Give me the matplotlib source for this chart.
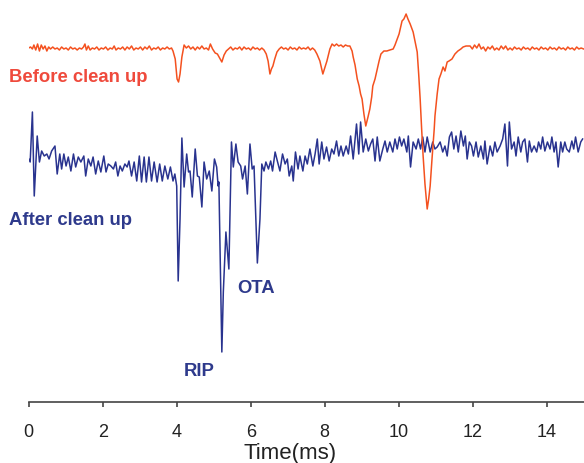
import matplotlib
matplotlib.use("Agg")
import matplotlib.pyplot as plt
from matplotlib import font_manager

# ---------------- data (time in ms, amplitude in arbitrary units, up = positive) -------------
before_t = [
    0.00, 0.05, 0.10, 0.14, 0.19, 0.24, 0.29, 0.34, 0.39, 0.44,
    0.49, 0.54, 0.59, 0.65, 0.71, 0.77, 0.83, 0.89, 0.95, 1.01,
    1.07, 1.13, 1.19, 1.25, 1.31, 1.37, 1.43, 1.48, 1.52, 1.56,
    1.61, 1.66, 1.72, 1.78, 1.84, 1.90, 1.96, 2.02, 2.08, 2.14,
    2.20, 2.26, 2.31, 2.36, 2.42, 2.48, 2.54, 2.60, 2.66, 2.72,
    2.78, 2.84, 2.90, 2.96, 3.02, 3.08, 3.14, 3.20, 3.26, 3.32,
    3.38, 3.44, 3.50, 3.56, 3.62, 3.68, 3.74, 3.80, 3.86, 3.90,
    3.96, 4.01, 4.05, 4.09, 4.14, 4.20, 4.26, 4.32, 4.38, 4.44,
    4.50, 4.56, 4.62, 4.68, 4.74, 4.80, 4.86, 4.91, 4.97, 5.04,
    5.10, 5.16, 5.22, 5.28, 5.34, 5.40, 5.46, 5.52, 5.58, 5.64,
    5.70, 5.76, 5.82, 5.88, 5.94, 6.00, 6.06, 6.12, 6.18, 6.24,
    6.30, 6.36, 6.42, 6.47, 6.52, 6.56, 6.60, 6.65, 6.71, 6.77,
    6.83, 6.89, 6.95, 7.01, 7.07, 7.13, 7.19, 7.25, 7.31, 7.37,
    7.43, 7.49, 7.55, 7.61, 7.67, 7.73, 7.79, 7.87, 7.95, 8.01,
    8.06, 8.14, 8.20, 8.26, 8.32, 8.38, 8.44, 8.50, 8.56, 8.62,
    8.68, 8.74, 8.77, 8.82, 8.88, 8.93, 8.97, 9.01, 9.06, 9.11,
    9.17, 9.22, 9.27, 9.30, 9.36, 9.41, 9.47, 9.52, 9.60, 9.68,
    9.76, 9.85, 9.90, 9.96, 10.01, 10.06, 10.09, 10.14, 10.20, 10.22,
    10.25, 10.31, 10.36, 10.39, 10.44, 10.50, 10.54, 10.58, 10.62, 10.66,
    10.71, 10.77, 10.81, 10.85, 10.90, 10.96, 10.98, 11.04, 11.09, 11.14,
    11.20, 11.25, 11.31, 11.36, 11.44, 11.52, 11.60, 11.68, 11.74, 11.82,
    11.93, 11.99, 12.05, 12.11, 12.17, 12.23, 12.29, 12.35, 12.41, 12.47,
    12.53, 12.59, 12.65, 12.71, 12.77, 12.83, 12.89, 12.95, 13.01, 13.07,
    13.13, 13.19, 13.25, 13.31, 13.37, 13.43, 13.49, 13.55, 13.61, 13.67,
    13.73, 13.79, 13.85, 13.91, 13.97, 14.03, 14.09, 14.15, 14.21, 14.27,
    14.33, 14.39, 14.45, 14.51, 14.57, 14.63, 14.69, 14.75, 14.81, 14.87,
    14.93, 15.00,
]
before_v = [
    0, 1, -1, 3, -2, 4, -3, 3, -1, 2,
    -3, 1, -1, 1, -1, 0, -2, 1, -1, 0,
    -2, 1, -1, 0, -2, 0, -1, 1, 4, -2,
    2, -2, 0, -1, 1, -2, 0, -1, 1, -2,
    0, -1, 2, -2, 0, -1, 1, -2, 1, -1,
    2, -2, 0, -1, 1, -2, 1, -1, 2, -2,
    0, -1, 1, -2, 0, -1, 1, -1, 0, -3,
    -11, -31, -34, -26, -9, 3, 0, 2, -1, 1,
    -2, 1, -1, 2, -1, 0, -2, 4, -1, -5,
    -6, -10, -14, -7, -3, -1, 1, -2, 0, -1,
    1, -2, 1, -1, 0, -2, 1, -1, 0, -2,
    0, -2, -6, -13, -26, -21, -18, -11, -4, -1,
    1, -1, 0, -2, 1, -1, 0, -2, 1, -1,
    0, -1, 1, -2, 0, -2, -6, -13, -26, -19,
    -13, -1, 4, 2, 4, 2, 3, 1, 3, 2,
    2, -3, -9, -17, -31, -38, -46, -51, -66, -78,
    -69, -61, -49, -38, -31, -23, -13, -6, -3, -3,
    -2, -1, 3, 9, 14, 22, 27, 29, 34, 32,
    29, 24, 19, 16, 7, -4, -26, -51, -81, -108,
    -136, -161, -151, -138, -111, -81, -68, -46, -31, -26,
    -19, -23, -14, -13, -11, -6, -3, -1, 1, 2,
    2, -1, 3, 0, 4, -1, 1, -3, 1, -1,
    2, -2, 0, -2, 2, -1, 2, -2, 0, -2,
    1, -1, 0, -2, 1, -1, 0, -2, 1, -1,
    0, -2, 1, -1, 0, -2, 1, -1, 0, -2,
    1, -1, 0, -2, 1, -1, 0, -2, 1, -1,
    0, -1,
]

after_t = [
    0.00, 0.04, 0.10, 0.15, 0.23, 0.29, 0.35, 0.42, 0.49, 0.55,
    0.62, 0.71, 0.77, 0.84, 0.89, 0.95, 1.01, 1.07, 1.14, 1.21,
    1.27, 1.34, 1.41, 1.49, 1.54, 1.61, 1.68, 1.74, 1.81, 1.88,
    1.95, 2.03, 2.09, 2.15, 2.22, 2.29, 2.35, 2.41, 2.47, 2.53,
    2.60, 2.66, 2.71, 2.78, 2.85, 2.92, 2.99, 3.05, 3.12, 3.18,
    3.25, 3.32, 3.39, 3.47, 3.54, 3.61, 3.68, 3.76, 3.83, 3.90,
    3.95, 4.00, 4.04, 4.09, 4.14, 4.20, 4.27, 4.32, 4.36, 4.42,
    4.50, 4.56, 4.61, 4.68, 4.74, 4.81, 4.88, 4.95, 5.02, 5.08,
    5.12, 5.14, 5.22, 5.26, 5.33, 5.41, 5.48, 5.53, 5.60, 5.66,
    5.73, 5.78, 5.85, 5.91, 5.98, 6.04, 6.09, 6.18, 6.25, 6.30,
    6.36, 6.41, 6.48, 6.54, 6.59, 6.66, 6.72, 6.79, 6.86, 6.93,
    6.99, 7.04, 7.11, 7.15, 7.21, 7.28, 7.33, 7.41, 7.47, 7.53,
    7.60, 7.68, 7.74, 7.80, 7.85, 7.92, 7.98, 8.05, 8.12, 8.19,
    8.25, 8.32, 8.38, 8.44, 8.50, 8.58, 8.64, 8.70, 8.77, 8.86,
    8.92, 8.97, 9.04, 9.11, 9.18, 9.24, 9.30, 9.36, 9.42, 9.49,
    9.57, 9.63, 9.69, 9.76, 9.84, 9.90, 9.96, 10.02, 10.08, 10.14,
    10.22, 10.26, 10.32, 10.39, 10.47, 10.53, 10.59, 10.65, 10.71, 10.77,
    10.85, 10.92, 10.98, 11.04, 11.12, 11.19, 11.25, 11.31, 11.37, 11.43,
    11.49, 11.55, 11.61, 11.68, 11.75, 11.80, 11.85, 11.91, 11.97, 12.02,
    12.09, 12.15, 12.22, 12.29, 12.33, 12.39, 12.47, 12.54, 12.60, 12.66,
    12.74, 12.81, 12.87, 12.94, 12.99, 13.05, 13.12, 13.17, 13.23, 13.30,
    13.35, 13.41, 13.48, 13.53, 13.59, 13.66, 13.73, 13.78, 13.84, 13.89,
    13.95, 14.02, 14.09, 14.14, 14.20, 14.25, 14.31, 14.38, 14.43, 14.49,
    14.54, 14.61, 14.68, 14.73, 14.78, 14.85, 14.92, 14.97,
]
after_v = [
    0, -3, 47, -37, 23, -3, 8, 3, 5, 0,
    8, 13, -15, 5, -10, 5, -7, 2, -12, 5,
    -8, 2, -3, 3, -17, 0, -7, 2, -15, -2,
    -13, 3, -13, -5, -7, -10, -3, -17, -7, -12,
    -5, -8, -2, -17, -3, -22, 3, -23, 2, -23,
    2, -22, -3, -23, -5, -22, -7, -20, -8, -22,
    -15, -27, -122, -60, 21, -28, 5, -13, -12, -38,
    10, -17, -18, -48, -3, -20, -12, -32, 0, -8,
    -27, -23, -193, -133, -73, -110, 17, -8, 15, -3,
    -7, -20, -7, -35, 15, -10, -7, -104, -60, -5,
    -12, -3, -10, -2, -12, 7, -2, -12, 5, -5,
    0, -17, -7, -22, 7, -10, 3, -12, 3, -5,
    10, -7, 5, 20, -5, 17, 0, 12, -2, 10,
    5, 18, 3, 13, 3, 13, 5, 23, 0, 35,
    5, 37, 7, 20, 8, 15, 20, -2, 22, -2,
    10, 18, 7, 17, 7, 20, 10, 22, 13, 20,
    7, 23, -8, 17, 10, 20, 10, 22, 7, 22,
    7, 17, 10, 12, 17, 7, 13, 3, 22, 27,
    10, 23, 7, 28, 13, 23, 0, 17, 13, 3,
    17, 2, 13, 0, 18, -5, 13, 3, 17, 7,
    13, 20, 35, -7, 37, 10, 17, 3, 22, 7,
    17, 20, -3, 18, 7, 13, 7, 17, 10, 22,
    8, 17, 10, 22, 7, 17, -8, 17, 7, 17,
    10, 7, 18, 10, 22, 7, 17, 20,
]

x_ticks = [0, 2, 4, 6, 8, 10, 12, 14]
x_label = "Time(ms)"
label_before = "Before clean up"
label_after = "After clean up"
label_ota = "OTA"
label_rip = "RIP"

assert len(before_t) == len(before_v), (len(before_t), len(before_v))
assert len(after_t) == len(after_v), (len(after_t), len(after_v))

# ---------------- style ----------------
names = {f.name for f in font_manager.fontManager.ttflist}
narrow = "Liberation Sans Narrow" if "Liberation Sans Narrow" in names else "Liberation Sans"

orange = "#f4511f"
orange_txt = "#ef4a3c"
navy = "#29338f"
navy_txt = "#2e3a8c"
axis_col = "#444444"

W, H = 584, 464
fig = plt.figure(figsize=(W / 100, H / 100), dpi=100)
ax = fig.add_axes([28.7 / W, (H - 403) / H, 555 / W, 403 / H])

offset_before = -49
offset_after = -160

ax.plot(after_t, [v + offset_after for v in after_v], color=navy, lw=1.1, zorder=2)
ax.plot(before_t, [v + offset_before for v in before_v], color=orange, lw=1.1, zorder=3)

ax.set_xlim(0, 15)
ax.set_ylim(-403, 0)
for s in ("left", "top", "right"):
    ax.spines[s].set_visible(False)
ax.spines["bottom"].set_color(axis_col)
ax.spines["bottom"].set_linewidth(1.2)
ax.set_yticks([])
ax.set_xticks(x_ticks)
ax.set_xticklabels([str(t) for t in x_ticks], fontfamily=narrow, fontsize=13)
ax.tick_params(axis="x", direction="out", length=3.4, width=1.2, color=axis_col,
               labelcolor="#222222", pad=12)

fig.text(289.7 / W, 1 - 459.5 / H, x_label, ha="center", va="baseline",
         fontfamily=narrow, fontsize=16, color="#222222")

bold = dict(fontfamily="Liberation Sans", fontweight="bold", fontsize=13.3)
fig.text(9.3 / W, 1 - 82 / H, label_before, color=orange_txt, ha="left", va="baseline", **bold)
fig.text(9.3 / W, 1 - 225 / H, label_after, color=navy_txt, ha="left", va="baseline", **bold)
fig.text(237.3 / W, 1 - 292.7 / H, label_ota, color=navy_txt, ha="left", va="baseline", **bold)
fig.text(183.3 / W, 1 - 376 / H, label_rip, color=navy_txt, ha="left", va="baseline", **bold)

fig.savefig("out.png", dpi=100)
